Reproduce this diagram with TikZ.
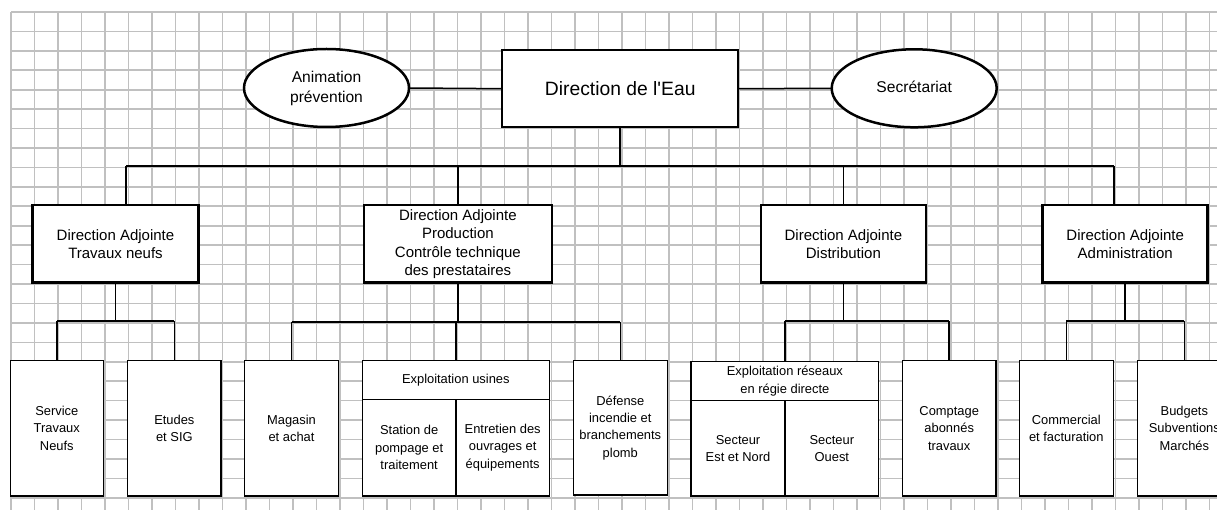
\documentclass[tikz,border=0pt]{standalone}
\usepackage{fontspec}
\setmainfont{Liberation Sans}[Ligatures=TeXOff]
\usetikzlibrary{shapes.geometric}
\definecolor{gridgray}{RGB}{192,192,192}
\tikzset{
  gridline/.style={draw=gridgray, line width=1.6pt},
  conn/.style={draw=black, line width=1.5pt},
  bigbox/.style={draw=black, fill=white, line width=2.5pt, inner sep=0pt, outer sep=0pt, align=center},
  oval/.style={ellipse, draw=black, fill=white, line width=2.5pt, inner sep=0pt, outer sep=0pt, align=center,
    font=\fontsize{15.6}{20}\selectfont},
  dabox/.style={bigbox, minimum height=77.7pt, font=\fontsize{15}{18.5}\selectfont},
  leaf/.style={draw=black, fill=white, line width=1.3pt, inner sep=0pt, outer sep=0pt, align=center,
    font=\fontsize{12.9}{17.3}\selectfont},
}
\begin{document}
\begin{tikzpicture}[x=1pt,y=-1pt]
\useasboundingbox (0,0) rectangle (1217,510);
\fill[white] (0,0) rectangle (1217,510);
% grid
\foreach \i in {0,...,51} \draw[gridline] ({11+23.5*\i},12) -- ({11+23.5*\i},510);
\foreach \j in {0,...,25} \draw[gridline] (11,{12+19.43*\j}) -- (1217,{12+19.43*\j});

% top level
\node[bigbox, minimum width=236pt, minimum height=77pt, font=\fontsize{19.3}{22}\selectfont] (dir) at (620.2,88.7) {Direction de l'Eau};
\node[oval, minimum width=165pt, minimum height=78pt] (anim) at (326.5,88) {Animation\\prévention};
\node[oval, minimum width=165pt, minimum height=78pt] (secr) at (914.2,88.3) {\raisebox{3pt}{Secrétariat}};

% deputy directions
\node[dabox, minimum width=165.6pt] (daT) at (115.5,243.9) {Direction Adjointe\\Travaux neufs};
\node[dabox, minimum width=187.7pt] (daP) at (457.9,243.9) {Direction Adjointe\\Production\\Contrôle technique\\des prestataires};
\node[dabox, minimum width=164.7pt] (daD) at (843.4,243.9) {Direction Adjointe\\Distribution};
\node[dabox, minimum width=165pt] (daA) at (1125.2,243.9) {Direction Adjointe\\Administration};

% leaves
\node[leaf, minimum width=93pt, minimum height=135.3pt] (c1) at (56.8,428.35) {Service\\Travaux\\Neufs};
\node[leaf, minimum width=93.3pt, minimum height=135.3pt] (c2) at (174.35,428.35) {Etudes\\et SIG};
\node[leaf, minimum width=93.6pt, minimum height=135.3pt] (c3) at (291.5,428.35) {Magasin\\et achat};
\node[leaf, minimum width=187pt, minimum height=38.6pt] (c4h) at (455.8,380) {Exploitation usines};
\node[leaf, minimum width=93.7pt, minimum height=96.7pt] (c4a) at (409.15,447.65) {Station de\\pompage et\\traitement};
\node[leaf, minimum width=93.3pt, minimum height=96.7pt] (c4b) at (502.65,447.65) {Entretien des\\ouvrages et\\équipements};
\node[leaf, minimum width=94pt, minimum height=134.3pt] (c5) at (620.3,427.85) {Défense\\incendie et\\branchements\\plomb};
\node[leaf, minimum width=187.7pt, minimum height=39pt] (c6h) at (784.85,381.2) {Exploitation réseaux\\en régie directe};
\node[leaf, minimum width=94pt, minimum height=95.3pt] (c6a) at (738,448.35) {Secteur\\Est et Nord};
\node[leaf, minimum width=93.7pt, minimum height=95.3pt] (c6b) at (831.85,448.35) {Secteur\\Ouest};
\node[leaf, minimum width=93.7pt, minimum height=135.3pt] (c7) at (949.2,428.35) {Comptage\\abonnés\\travaux};
\node[leaf, minimum width=94pt, minimum height=135.3pt] (c8) at (1066.3,428.35) {Commercial\\et facturation};
\node[leaf, minimum width=94pt, minimum height=135.3pt] (c9) at (1184.3,428.35) {Budgets\\Subventions\\Marchés};

% top connectors
\draw[conn] (anim.east) -- (dir.west);
\draw[conn] (dir.east) -- (secr.west);
\coordinate (busT) at (dir.south |- 0,166);
\coordinate (busL) at (126,166);
\coordinate (busR) at (1114,166);
\draw[conn] (dir.south) -- (busT);
\draw[conn] (busL) -- (busR);
\draw[conn] (busL) -- (busL |- daT.north);
\draw[conn] (daP.north |- busL) -- (daP.north);
\draw[conn] (daD.north |- busL) -- (daD.north);
\draw[conn] (busR) -- (busR |- daA.north);

% second level connectors
\draw[conn] (daT.south) -- (daT.south |- 0,321);
\draw[conn] (c1.north |- 0,321) -- (c2.north |- 0,321);
\draw[conn] (c1.north |- 0,321) -- (c1.north);
\draw[conn] (c2.north |- 0,321) -- (c2.north);

\draw[conn] (daP.south) -- (daP.south |- 0,322);
\draw[conn] (c3.north |- 0,322) -- (c5.north |- 0,322);
\draw[conn] (c3.north |- 0,322) -- (c3.north);
\draw[conn] (c4h.north |- 0,322) -- (c4h.north);
\draw[conn] (c5.north |- 0,322) -- (c5.north);

\draw[conn] (daD.south) -- (daD.south |- 0,321);
\draw[conn] (c6h.north |- 0,321) -- (c7.north |- 0,321);
\draw[conn] (c6h.north |- 0,321) -- (c6h.north);
\draw[conn] (c7.north |- 0,321) -- (c7.north);

\draw[conn] (daA.south) -- (daA.south |- 0,321);
\draw[conn] (c8.north |- 0,321) -- (c9.north |- 0,321);
\draw[conn] (c8.north |- 0,321) -- (c8.north);
\draw[conn] (c9.north |- 0,321) -- (c9.north);
\end{tikzpicture}
\end{document}
